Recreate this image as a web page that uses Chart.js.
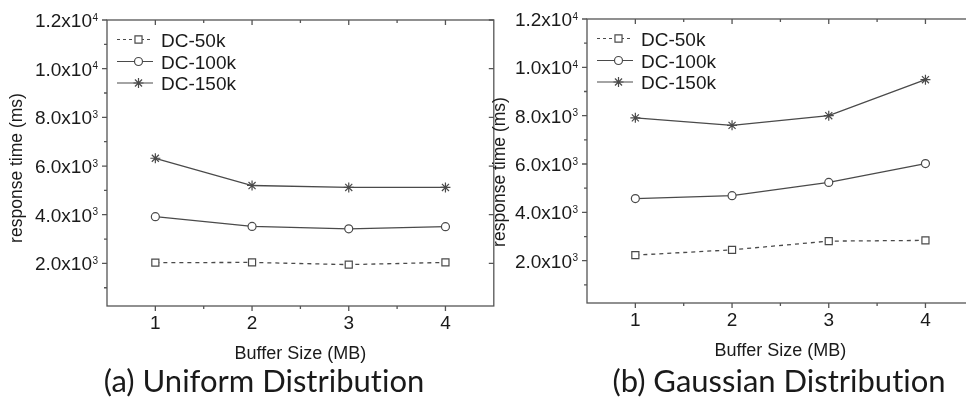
<!DOCTYPE html>
<html>
<head>
<meta charset="utf-8">
<script src="https://cdn.jsdelivr.net/npm/chart.js@4.4.1/dist/chart.umd.min.js"></script>
<style>
  html, body { margin: 0; padding: 0; background: #fff; }
  body { width: 966px; height: 403px; overflow: hidden; position: relative; }
  .panel { position: absolute; top: 0; width: 500px; height: 403px; }
  #panelA { left: 0; }
  #panelB { left: 480px; }
  .caption {
    position: absolute; top: 365px; width: 440px; margin-left: -220px;
    text-align: center; white-space: nowrap;
    font: 31px/31px Lato, sans-serif; color: #1a1a1a;
    font-variant-ligatures: none;
  }
</style>
</head>
<body>
<div class="panel" id="panelA"><canvas id="chartA"></canvas></div>
<div class="panel" id="panelB"><canvas id="chartB"></canvas></div>
<div class="caption" style="left: 264px;">(a) Uniform Distribution</div>
<div class="caption" style="left: 779px;">(b) Gaussian Distribution</div>

<script>
// Buffer sizes on the x axis (MB)
const bufferSizes = [1, 2, 3, 4];
const seriesNames = ['DC-50k', 'DC-100k', 'DC-150k'];

// (a) uniform distribution, response time in ms
const uniform50k = [2030, 2040, 1950, 2040];
const uniform100k = [3920, 3520, 3420, 3510];
const uniform150k = [6320, 5200, 5120, 5120];

// (b) gaussian distribution, response time in ms
const gaussian50k = [2230, 2450, 2810, 2840];
const gaussian100k = [4570, 4690, 5240, 6020];
const gaussian150k = [7910, 7600, 8000, 9490];

// axis ticks
const xTickLabels = ['1', '2', '3', '4'];
const xMinorTicks = [1.5, 2.5, 3.5];
const yTickValues = [2000, 4000, 6000, 8000, 10000, 12000];
const yTickLabels = ['2.0x10^3', '4.0x10^3', '6.0x10^3', '8.0x10^3', '1.0x10^4', '1.2x10^4'];
const yMinorTicks = [1000, 3000, 5000, 7000, 9000, 11000];

const AXIS = '#555555';
const LINE = '#4a4a4a';
const TEXT = '#1a1a1a';
const SANS = '"Liberation Sans", Arial, sans-serif';

const styles = [
  { dash: [4, 4], pointStyle: 'rect', radius: 5 },
  { dash: [], pointStyle: 'circle', radius: 4 },
  { dash: [], pointStyle: 'star', radius: 5 }
];

function buildDatasets(seriesList) {
  return seriesList.map((values, i) => ({
    label: seriesNames[i],
    data: bufferSizes.map((x, j) => ({ x: x, y: values[j] })),
    borderColor: LINE,
    borderWidth: 1.3,
    borderDash: styles[i].dash,
    pointStyle: styles[i].pointStyle,
    pointRadius: styles[i].radius,
    pointBorderColor: LINE,
    pointBackgroundColor: '#fff',
    pointBorderWidth: 1.2,
    tension: 0,
    fill: false
  }));
}

// frame, ticks, tick labels, axis titles and legend
const decorPlugin = {
  id: 'decor',
  afterDatasetsDraw(chart, args, opts) {
    const ctx = chart.ctx;
    const ca = chart.chartArea;
    const xs = chart.scales.x;
    const ys = chart.scales.y;
    ctx.save();

    // frame
    ctx.strokeStyle = AXIS;
    ctx.lineWidth = 1.3;
    ctx.setLineDash([]);
    ctx.strokeRect(ca.left, ca.top, ca.right - ca.left, ca.bottom - ca.top);

    // tick marks: outward on bottom/left, inward on top/right
    ctx.beginPath();
    const xTick = (v, len) => {
      const px = xs.getPixelForValue(v);
      ctx.moveTo(px, ca.bottom); ctx.lineTo(px, ca.bottom + len);
      ctx.moveTo(px, ca.top); ctx.lineTo(px, ca.top + len);
    };
    bufferSizes.forEach(v => xTick(v, 5));
    xMinorTicks.forEach(v => xTick(v, 3));
    yTickValues.forEach(v => {
      const py = ys.getPixelForValue(v);
      ctx.moveTo(ca.left, py); ctx.lineTo(ca.left - 5, py);
      ctx.moveTo(ca.right, py); ctx.lineTo(ca.right - 5, py);
    });
    yMinorTicks.forEach(v => {
      const py = ys.getPixelForValue(v);
      ctx.moveTo(ca.left, py); ctx.lineTo(ca.left - 3, py);
    });
    ctx.stroke();

    // tick labels
    ctx.fillStyle = TEXT;
    ctx.font = '19px ' + SANS;
    ctx.textAlign = 'center';
    ctx.textBaseline = 'alphabetic';
    bufferSizes.forEach((v, i) => {
      ctx.fillText(xTickLabels[i], xs.getPixelForValue(v), ca.bottom + 23);
    });
    yTickValues.forEach((v, i) => {
      const py = ys.getPixelForValue(v);
      const parts = yTickLabels[i].split('^');
      ctx.font = '19px ' + SANS;
      ctx.textAlign = 'right';
      ctx.fillText(parts[0], ca.left - 15, py + 7);
      ctx.font = '10px ' + SANS;
      ctx.textAlign = 'left';
      ctx.fillText(parts[1], ca.left - 14.5, py + 0.5);
    });

    // axis titles
    ctx.font = '18px ' + SANS;
    ctx.textAlign = 'center';
    ctx.fillText('Buffer Size (MB)', (ca.left + ca.right) / 2, ca.bottom + 52.5);
    ctx.save();
    ctx.font = '17.5px ' + SANS;
    ctx.translate(ca.left - opts.yTitleDx, (ca.top + ca.bottom) / 2 + opts.yTitleDy);
    ctx.rotate(-Math.PI / 2);
    ctx.fillText('response time (ms)', 0, 0);
    ctx.restore();

    // legend: line sample, marker, name
    chart.data.datasets.forEach((ds, i) => {
      const ly = ca.top + [19.5, 41.5, 63][i];
      ctx.strokeStyle = LINE;
      ctx.lineWidth = 1.2;
      ctx.setLineDash(i === 0 ? [3, 3] : []);
      ctx.beginPath();
      ctx.moveTo(ca.left + 10, ly);
      ctx.lineTo(ca.left + 46, ly);
      ctx.stroke();
      ctx.setLineDash([]);
      ctx.fillStyle = '#fff';
      Chart.helpers.drawPoint(ctx, {
        pointStyle: ds.pointStyle, radius: ds.pointRadius, borderWidth: 1.2, rotation: 0
      }, ca.left + 31.5, ly);
      ctx.fillStyle = TEXT;
      ctx.font = '19px ' + SANS;
      ctx.textAlign = 'left';
      ctx.fillText(ds.label, ca.left + 54, ly + 7);
    });

    ctx.restore();
  }
};

function makeChart(canvasId, seriesList, pad, decor) {
  const canvas = document.getElementById(canvasId);
  return new Chart(canvas.getContext('2d'), {
    type: 'line',
    data: { datasets: buildDatasets(seriesList) },
    options: {
      responsive: true,
      maintainAspectRatio: false,
      animation: false,
      devicePixelRatio: 1,
      layout: { padding: pad },
      scales: {
        x: { type: 'linear', min: 0.5, max: 4.5, display: false },
        y: { type: 'linear', min: 250, max: 12000, display: false }
      },
      plugins: {
        legend: { display: false },
        tooltip: { enabled: false },
        decor: decor
      }
    },
    plugins: [decorPlugin]
  });
}

makeChart('chartA', [uniform50k, uniform100k, uniform150k],
  { left: 107, top: 20, right: 6, bottom: 97 },
  { yTitleDx: 85, yTitleDy: 5 });

makeChart('chartB', [gaussian50k, gaussian100k, gaussian150k],
  { left: 107, top: 19, right: 5, bottom: 100 },
  { yTitleDx: 82, yTitleDy: 11 });
</script>
</body>
</html>
